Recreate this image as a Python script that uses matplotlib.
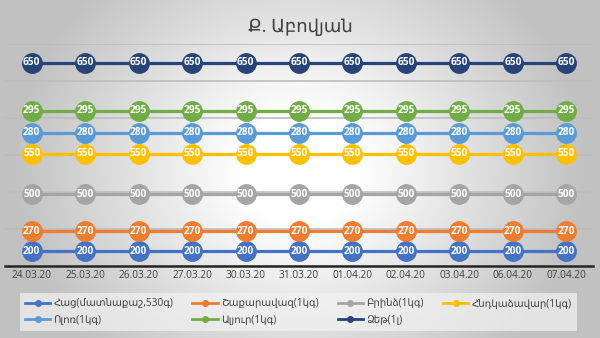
import numpy as np
import matplotlib
matplotlib.use("Agg")
import matplotlib.pyplot as plt

plt.rcParams["font.family"] = ["Open Sans", "DejaVu Sans"]

dates = ["24.03.20", "25.03.20", "26.03.20", "27.03.20", "30.03.20", "31.03.20",
         "01.04.20", "02.04.20", "03.04.20", "06.04.20", "07.04.20"]
names = ["Հաց(մատնաքաշ,530գ)", "Շաքարավազ(1կգ)", "Բրինձ(1կգ)", "Հնդկաձավար(1կգ)",
         "Ոլոռ(1կգ)", "Ալյուր(1կգ)", "Ձեթ(1լ)"]
hac = [200] * 11
shaqaravaz = [270] * 11
brindz = [500] * 11
hndkadzavar = [550] * 11
olor = [280] * 11
alyur = [295] * 11
dzet = [650] * 11
colors = ["#4472C4", "#ED7D31", "#A5A5A5", "#FFC000", "#5B9BD5", "#70AD47", "#264478"]

series = [hac, shaqaravaz, brindz, hndkadzavar, olor, alyur, dzet]

fig = plt.figure(figsize=(6, 3.38), dpi=100)

# soft radial backdrop
bg = fig.add_axes([0, 0, 1, 1], zorder=-10)
yy, xx = np.mgrid[-1:1:200j, -1:1:300j]
r = np.sqrt((xx / 1.0) ** 2 + (yy / 1.6) ** 2)
shade = np.clip(1.0 - 0.24 * np.clip(r - 0.2, 0, None) / 0.75, 0.76, 1.0)
bg.imshow(np.dstack([shade] * 3), aspect="auto", extent=[0, 1, 0, 1])
bg.axis("off")

ax = fig.add_axes([5 / 600, 1 - 266 / 338, 588 / 600, 222 / 338])
ax.patch.set_alpha(0)
x = np.arange(len(dates))

# stacked lines: each series sits on top of the previous ones
cum = np.cumsum(np.array(series, dtype=float), axis=0)
handles = []
for vals, top, c, name in zip(series, cum, colors, names):
    h, = ax.plot(x, top, color=c, lw=2.3, marker="o", ms=14, mec=c, mfc=c,
                 label=name, zorder=3)
    handles.append(h)
    for xi, yi, v in zip(x, top, vals):
        ax.text(xi, yi, str(v), ha="center", va="center", color="white",
                fontsize=7.3, fontweight="bold", zorder=4)

ax.set_xlim(-0.5, len(dates) - 0.5)
ax.set_ylim(0, 3000)
ax.set_yticks(np.arange(0, 3001, 500))
ax.yaxis.grid(True, color="#bdbdbd", lw=1.2)
ax.set_axisbelow(True)
ax.tick_params(axis="y", left=False, labelleft=False)
ax.tick_params(axis="x", length=0, labelsize=7.3, labelcolor="#404040", pad=3)
ax.set_xticks(x)
ax.set_xticklabels(dates)
for s in ["top", "right", "left"]:
    ax.spines[s].set_visible(False)
ax.spines["bottom"].set_color("#262626")
ax.spines["bottom"].set_linewidth(1.8)

fig.text(0.5, 1 - 27 / 338, "Ք. Աբովյան", ha="center", va="center",
         fontsize=13, color="#404040")

# legend filled row by row
order = [0, 4, 1, 5, 2, 6, 3]
leg = fig.legend([handles[i] for i in order], [names[i] for i in order],
                 ncol=4, loc="center", bbox_to_anchor=(0.497, 1 - 312 / 338),
                 fontsize=7.3, frameon=True, handlelength=2.5, handletextpad=0.3,
                 columnspacing=1.9, labelspacing=0.5, borderpad=0.5)
for lh in leg.legend_handles:
    lh.set_markersize(4)
    lh.set_linewidth(2)
for t in leg.get_texts():
    t.set_color("#404040")
frame = leg.get_frame()
frame.set_facecolor("#f2f2f2")
frame.set_alpha(0.7)
frame.set_edgecolor("none")
frame.set_boxstyle("square", pad=0)

fig.savefig("out.png", dpi=100)
